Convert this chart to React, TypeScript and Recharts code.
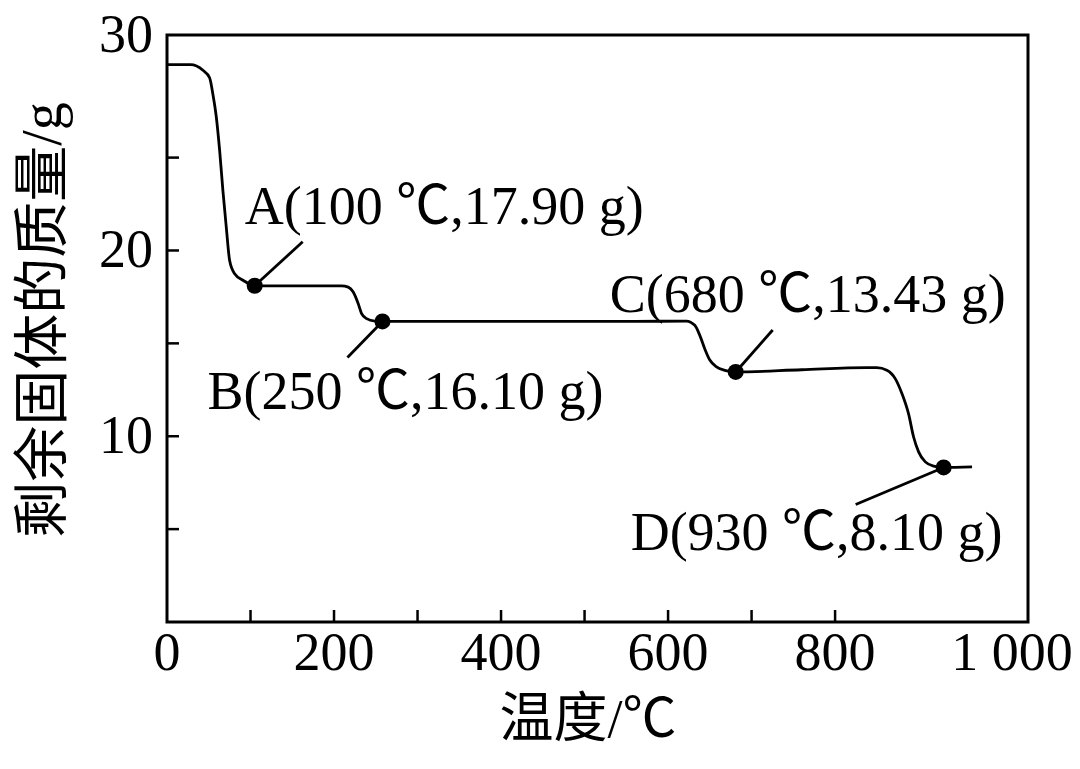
import React from 'react';
import { ComposedChart, Line, Scatter, XAxis, YAxis, ReferenceArea } from 'recharts';

// temperature (℃) and remaining solid mass (g)
const temperature = [0, 28, 43, 51, 55, 59, 63, 67, 71, 75, 81, 91, 105, 160, 209, 217, 223, 229, 233, 239, 249, 258, 400, 560, 622, 632, 638, 644, 650, 658, 668, 681, 760, 838, 850, 862, 872, 880, 888, 894, 900, 908, 918, 930, 964];
const mass = [30.0, 30.0, 29.7, 29.3, 28.4, 27.2, 25.4, 23.2, 21.25, 19.46, 18.75, 18.4, 18.1, 18.1, 18.1, 18.03, 17.76, 17.13, 16.6, 16.33, 16.2, 16.18, 16.18, 16.18, 16.2, 15.97, 15.43, 14.7, 14.1, 13.73, 13.55, 13.46, 13.58, 13.69, 13.69, 13.55, 13.1, 12.3, 11.2, 9.96, 9.16, 8.62, 8.39, 8.32, 8.35];

// marked points
const pointTemps = [105, 258, 681, 930];
const pointMasses = [18.1, 16.18, 13.46, 8.32];
const pointLabels = ['A(100 ℃,17.90 g)', 'B(250 ℃,16.10 g)', 'C(680 ℃,13.43 g)', 'D(930 ℃,8.10 g)'];

// axes
const xTicks = [0, 100, 200, 300, 400, 500, 600, 700, 800, 1000];
const xTickLabels = ['0', '', '200', '', '400', '', '600', '', '800', '1 000'];
const xMax = 1031;
const yTop = 31.6;
const yTicks = [5, 10, 15, 20, 25, yTop];
const yTickLabels = ['', '10', '', '20', '', '30'];

const curve = temperature.map((t, i) => ({ t, m: mass[i] }));
const points = pointTemps.map((t, i) => ({ t, m: pointMasses[i], label: pointLabels[i], idx: i }));

// leader line end (lx, ly) and text start (tx, ty) relative to each dot
const callouts = [
  { lx: 48, ly: -44, tx: -10, ty: -62 },
  { lx: -35, ly: 36, tx: -175, ty: 88 },
  { lx: 37, ly: -42, tx: -126, ty: -60 },
  { lx: -88, ly: 37, tx: -313, ty: 83 },
];

const FONT = '"Liberation Serif", "Noto Sans CJK SC", serif';

const XTick = (props: any) => {
  const { x, y, payload } = props;
  const v = payload.value;
  const i = xTicks.indexOf(v);
  const label = xTickLabels[i] ?? '';
  return (
    <g>
      {v > 0 && v <= 800 && <line x1={x} x2={x} y1={y} y2={y - 12} stroke="#000" strokeWidth={2.5} />}
      {label && (
        <text x={v === 1000 ? x + 10 : x} y={y + 48} textAnchor="middle" fontFamily={FONT} fontSize={54} fill="#000">
          {label}
        </text>
      )}
    </g>
  );
};

const YTick = (props: any) => {
  const { x, y, payload } = props;
  const v = payload.value;
  const i = yTicks.indexOf(v);
  const label = yTickLabels[i] ?? '';
  return (
    <g>
      {v < yTop && <line x1={x} x2={x + 12} y1={y} y2={y} stroke="#000" strokeWidth={2.5} />}
      {label && (
        <text x={x - 14} y={y + 17} textAnchor="end" fontFamily={FONT} fontSize={54} fill="#000">
          {label}
        </text>
      )}
    </g>
  );
};

const Marker = (props: any) => {
  const { cx, cy, payload } = props;
  const c = callouts[payload.idx];
  return (
    <g>
      <line x1={cx} y1={cy} x2={cx + c.lx} y2={cy + c.ly} stroke="#000" strokeWidth={2.8} />
      <circle cx={cx} cy={cy} r={8} fill="#000" />
      <text x={cx + c.tx} y={cy + c.ty} fontFamily={FONT} fontSize={54} fill="#000">
        {payload.label}
      </text>
    </g>
  );
};

const XTitle = () => (
  <text x={588} y={737} textAnchor="middle" fontFamily={FONT} fontSize={54} fill="#000">
    温度/℃
  </text>
);

const YTitle = () => (
  <text
    x={42}
    y={320}
    transform="rotate(-90, 42, 320)"
    textAnchor="middle"
    dominantBaseline="central"
    fontFamily={FONT}
    fontSize={56}
    fill="#000"
  >
    剩余固体的质量/g
  </text>
);

export default function App() {
  return (
    <div style={{ position: 'absolute', left: 0, top: 0, background: '#fff' }}>
      <ComposedChart width={1080} height={769} margin={{ top: 35, right: 52, bottom: 0, left: 0 }}>
        <XAxis
          dataKey="t"
          type="number"
          domain={[0, xMax]}
          ticks={xTicks}
          interval={0}
          height={147}
          axisLine={false}
          tickLine={false}
          tickSize={0}
          tickMargin={0}
          tick={<XTick />}
          label={<XTitle />}
        />
        <YAxis
          type="number"
          domain={[0, yTop]}
          ticks={yTicks}
          interval={0}
          width={167}
          axisLine={false}
          tickLine={false}
          tickSize={0}
          tickMargin={0}
          tick={<YTick />}
          label={<YTitle />}
        />
        <ReferenceArea
          x1={0}
          x2={xMax}
          y1={0}
          y2={yTop}
          fill="none"
          stroke="#000"
          strokeWidth={3}
          ifOverflow="visible"
        />
        <Line
          data={curve}
          dataKey="m"
          type="monotone"
          stroke="#000"
          strokeWidth={2.8}
          dot={false}
          activeDot={false}
          isAnimationActive={false}
        />
        <Scatter data={points} dataKey="m" shape={<Marker />} isAnimationActive={false} />
      </ComposedChart>
    </div>
  );
}
